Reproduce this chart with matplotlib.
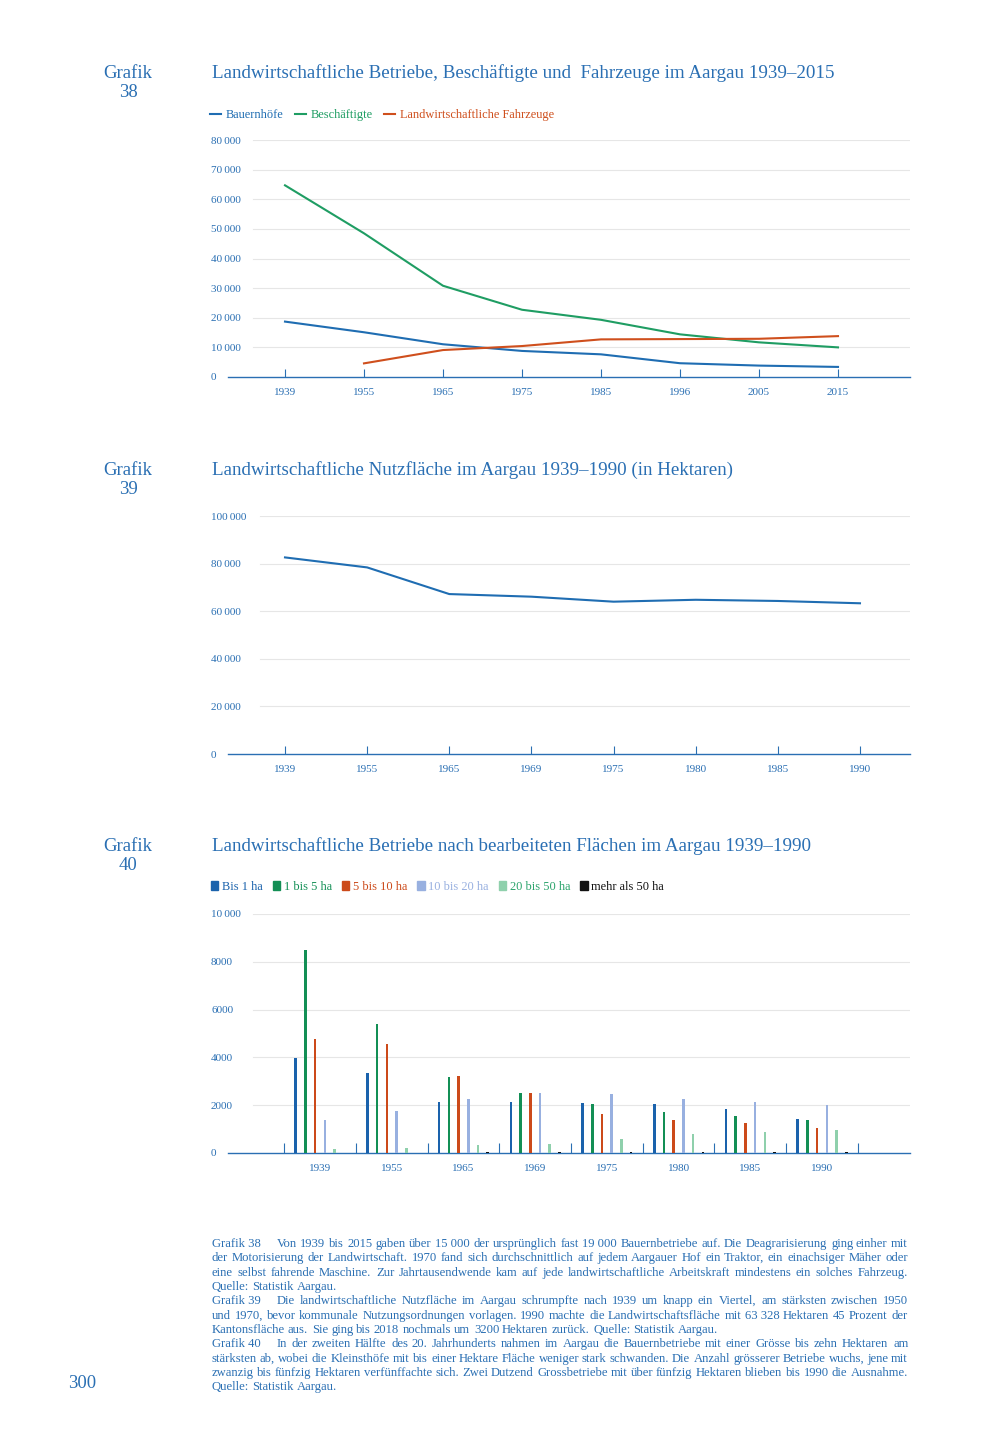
import matplotlib
matplotlib.use("Agg")
import matplotlib.pyplot as plt
import numpy as np
from matplotlib.ticker import FuncFormatter
from matplotlib.patches import Patch

plt.rcParams['font.family'] = ['Liberation Serif', 'DejaVu Serif']

# Grafik 38
years38 = ["1939", "1955", "1965", "1975", "1985", "1996", "2005", "2015"]
bauernhoefe = [18700, 15100, 11050, 8800, 7650, 4650, 3850, 3400]
beschaeftigte = [64700, 48500, 30800, 22700, 19300, 14400, 11700, 10000]
fahrzeuge = [np.nan, 4600, 9100, 10450, 12700, 12800, 12900, 13800]

# Grafik 39
years39 = ["1939", "1955", "1965", "1969", "1975", "1980", "1985", "1990"]
nutzflaeche = [82600, 78400, 67200, 66100, 64000, 64800, 64300, 63328]

# Grafik 40
years40 = ["1939", "1955", "1965", "1969", "1975", "1980", "1985", "1990"]
bis1 = [3960, 3340, 2150, 2150, 2110, 2040, 1860, 1440]
bis5 = [8500, 5400, 3170, 2490, 2030, 1710, 1540, 1370]
bis10 = [4770, 4560, 3230, 2520, 1650, 1360, 1240, 1030]
bis20 = [1370, 1760, 2280, 2490, 2450, 2240, 2150, 2000]
bis50 = [180, 200, 320, 380, 600, 800, 870, 980]
ueber50 = [15, 15, 25, 25, 25, 25, 25, 24]
labels40 = ["Bis 1 ha", "1 bis 5 ha", "5 bis 10 ha", "10 bis 20 ha", "20 bis 50 ha", "mehr als 50 ha"]

caption = [
    ("Grafik 38", "Von 1939 bis 2015 gaben über 15\u00a0000 der ursprünglich fast 19\u00a0000 Bauernbetriebe auf. Die Deagrarisierung ging einher mit", True),
    ("", "der Motorisierung der Landwirtschaft. 1970 fand sich durchschnittlich auf jedem Aargauer Hof ein Traktor, ein einachsiger Mäher oder", True),
    ("", "eine selbst fahrende Maschine. Zur Jahrtausendwende kam auf jede landwirtschaftliche Arbeitskraft mindestens ein solches Fahrzeug.", True),
    ("", "Quelle: Statistik Aargau.", False),
    ("Grafik 39", "Die landwirtschaftliche Nutzfläche im Aargau schrumpfte nach 1939 um knapp ein Viertel, am stärksten zwischen 1950", True),
    ("", "und 1970, bevor kommunale Nutzungsordnungen vorlagen. 1990 machte die Landwirtschaftsfläche mit 63\u00a0328 Hektaren 45 Prozent der", True),
    ("", "Kantonsfläche aus. Sie ging bis 2018 nochmals um 3200 Hektaren zurück. Quelle: Statistik Aargau.", False),
    ("Grafik 40", "In der zweiten Hälfte des 20. Jahrhunderts nahmen im Aargau die Bauernbetriebe mit einer Grösse bis zehn Hektaren am", True),
    ("", "stärksten ab, wobei die Kleinsthöfe mit bis einer Hektare Fläche weniger stark schwanden. Die Anzahl grösserer Betriebe wuchs, jene mit", True),
    ("", "zwanzig bis fünfzig Hektaren verfünffachte sich. Zwei Dutzend Grossbetriebe mit über fünfzig Hektaren blieben bis 1990 die Ausnahme.", True),
    ("", "Quelle: Statistik Aargau.", False),
]

W, H = 1000, 1454
BLUE = "#2a6fb3"
C_BAU = "#1f6db2"
C_BES = "#1f9d63"
C_FAH = "#cf4f1d"
C40 = ["#1a62ac", "#138f55", "#cc4a1a", "#98b0e0", "#8fd0ac", "#111111"]
C40_TXT = ["#1a62ac", "#138f55", "#cc4a1a", "#98b0e0", "#2aa36b", "#111111"]

fig = plt.figure(figsize=(W / 100, H / 100), dpi=100)

AX_L, AX_R = 228, 910


def axes_px(y0, y1):
    return fig.add_axes([AX_L / W, 1 - y1 / H, (AX_R - AX_L) / W, (y1 - y0) / H])


def fmt(v, pos):
    v = int(round(v))
    if v >= 10000:
        return f"{v:,}".replace(",", "\u2009")
    return str(v)


def style(ax, ymax, step, grid_start):
    ax.set_ylim(0, ymax)
    ticks = np.arange(0, ymax + 1, step)
    ax.set_yticks(ticks)
    ax.yaxis.set_major_formatter(FuncFormatter(fmt))
    xmin = (grid_start - AX_L) / (AX_R - AX_L)
    for t in ticks[1:]:
        ax.axhline(t, xmin=xmin, xmax=1, color="#e6e6e6", lw=0.8, zorder=0)
    for s in ["top", "right", "left"]:
        ax.spines[s].set_visible(False)
    ax.spines["bottom"].set_color(BLUE)
    ax.spines["bottom"].set_linewidth(1.0)
    ax.tick_params(axis="y", length=0, pad=12.2, labelcolor=BLUE, labelsize=8)
    plt.setp(ax.get_yticklabels(), ha="left")
    ax.tick_params(axis="x", which="both", direction="in", color=BLUE,
                   labelcolor=BLUE, labelsize=8, pad=8, width=0.8)


def header(y, num, title):
    fig.text(128 / W, 1 - y / H, f"Grafik\n{num}", ha="center", va="center",
             color=BLUE, fontsize=13.5, linespacing=1.1)
    fig.text(212 / W, 1 - (y - 10) / H, title, ha="left", va="center",
             color=BLUE, fontsize=13.7)


# ---- Grafik 38
header(83, 38, "Landwirtschaftliche Betriebe, Beschäftigte und  Fahrzeuge im Aargau 1939–2015")
ax1 = axes_px(140, 377)
x = np.arange(len(years38))
ax1.plot(x, bauernhoefe, color=C_BAU, lw=1.5, label="Bauernhöfe")
ax1.plot(x, beschaeftigte, color=C_BES, lw=1.5, label="Beschäftigte")
ax1.plot(x, fahrzeuge, color=C_FAH, lw=1.5, label="Landwirtschaftliche Fahrzeuge")
style(ax1, 80000, 10000, 253)
ax1.set_xticks(x)
ax1.set_xticklabels(years38)
ax1.tick_params(axis="x", length=6)
ax1.set_xlim((AX_L - 285) / 79, (AX_R - 285) / 79)
leg = ax1.legend(loc="center left", bbox_to_anchor=(210 / W, 1 - 115 / H),
                 bbox_transform=fig.transFigure, ncol=3, frameon=False,
                 fontsize=8.9, handlelength=0.9, handletextpad=0.4,
                 columnspacing=0.9, borderpad=0, borderaxespad=0)
for t, c in zip(leg.get_texts(), [C_BAU, C_BES, C_FAH]):
    t.set_color(c)

# ---- Grafik 39
header(480, 39, "Landwirtschaftliche Nutzfläche im Aargau 1939–1990 (in Hektaren)")
ax2 = axes_px(516, 754)
x2 = np.arange(len(years39))
ax2.plot(x2, nutzflaeche, color=C_BAU, lw=1.5)
style(ax2, 100000, 20000, 260)
ax2.set_xticks(x2)
ax2.set_xticklabels(years39)
ax2.tick_params(axis="x", length=6)
ax2.set_xlim((AX_L - 285) / 82.14, (AX_R - 285) / 82.14)

# ---- Grafik 40
header(856, 40, "Landwirtschaftliche Betriebe nach bearbeiteten Flächen im Aargau 1939–1990")
ax3 = axes_px(914, 1153)
x3 = np.arange(len(years40))
series40 = [bis1, bis5, bis10, bis20, bis50, ueber50]
slot = 9.7 / 71.71
for i, (vals, col, lab) in enumerate(zip(series40, C40, labels40)):
    ax3.bar(x3 + (i - 2.5) * slot, vals, width=0.036, color=col, label=lab, zorder=3)
style(ax3, 10000, 2000, 253)
ax3.set_xticks(np.arange(-0.5, len(years40)), labels=[""] * (len(years40) + 1))
ax3.tick_params(axis="x", which="major", length=7)
ax3.set_xticks(x3, labels=years40, minor=True)
ax3.tick_params(axis="x", which="minor", length=0, pad=8)
ax3.set_xlim((AX_L - 320) / 71.71, (AX_R - 320) / 71.71)
handles = [Patch(color=c) for c in C40]
leg3 = ax3.legend(handles, labels40, loc="center left",
                  bbox_to_anchor=(211 / W, 1 - 887 / H),
                  bbox_transform=fig.transFigure, ncol=6, frameon=False,
                  fontsize=8.9, handlelength=0.6, handleheight=0.75,
                  handletextpad=0.3, columnspacing=0.8, borderpad=0,
                  borderaxespad=0)
for t, c in zip(leg3.get_texts(), C40_TXT):
    t.set_color(c)

# ---- caption (justified)
renderer = fig.canvas.get_renderer()
CAP_SIZE = 9.1
CAP = dict(fontsize=CAP_SIZE, color=BLUE, va="baseline", ha="left")
SPACE = 0.25 * CAP_SIZE * 100 / 72


def width(s):
    t = fig.text(0, 0, s, **CAP)
    w = t.get_window_extent(renderer).width
    t.remove()
    return w


left, right = 212, 908
y = 1247.0
for prefix, body, justify in caption:
    yb = round(y)
    x0 = left
    if prefix:
        fig.text(x0 / W, 1 - yb / H, prefix, **CAP)
        x0 += width(prefix) + 16
    words = body.split(" ")
    ws = [width(w) for w in words]
    gap = SPACE
    if justify and len(words) > 1:
        gap = max(SPACE * 0.6, (right - x0 - sum(ws)) / (len(words) - 1))
    xx = x0
    for w, wd in zip(words, ws):
        fig.text(round(xx) / W, 1 - yb / H, w, **CAP)
        xx += wd + gap
    y += 14.35

fig.text(82 / W, 1 - 1384 / H, "300", ha="center", va="center", color=BLUE, fontsize=13.5)

fig.savefig("out.png", dpi=100)
